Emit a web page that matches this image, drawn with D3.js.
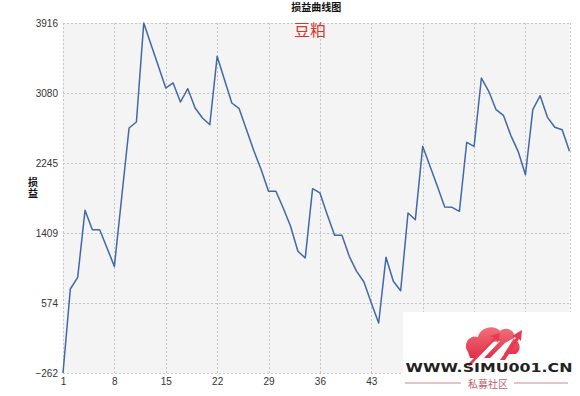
<!DOCTYPE html>
<html><head><meta charset="utf-8">
<script src="https://cdn.jsdelivr.net/npm/d3@7"></script>
<style>body{margin:0;background:#fff;}svg{display:block;}</style>
</head><body><svg id="c" width="580" height="396"></svg>
<script>
const title = "损益曲线图";
const subtitle = "豆粕";
const yLabel = "损益";
const yTicks = [-262, 574, 1409, 2245, 3080, 3916];
const xTicks = [1, 8, 15, 22, 29, 36, 43, 50, 57, 64];
const values = [-262, 741, 880, 1680, 1449, 1449, 1230, 1011, 1839, 2663,
  2734, 3916, 3657, 3399, 3140, 3200, 2973, 3132, 2901, 2782,
  2702, 3518, 3239, 2961, 2893, 2642, 2392, 2165, 1907, 1907,
  1708, 1489, 1191, 1111, 1938, 1887, 1628, 1382, 1382, 1131,
  952, 824, 574, 335, 1119, 833, 720, 1648, 1568, 2444,
  2205, 1967, 1720, 1716, 1668, 2492, 2444, 3259, 3101, 2881,
  2814, 2575, 2384, 2105, 2881, 3048, 2790, 2671, 2642, 2384];
const data = values.map((v, i) => ({x: i + 1, y: v}));

const svg = d3.select("#c");
const L = 63, R = 569.5, T = 23, B = 373;
const WM_X = 403, WM_Y = 312;
const x = d3.scaleLinear().domain([1, values.length]).range([L, R]);
const y = d3.scaleLinear().domain([-262, 3916]).range([B, T]);

svg.append("rect").attr("x", L).attr("y", T).attr("width", R - L).attr("height", B - T).attr("fill", "#f4f4f4");

const grid = svg.append("g").attr("stroke", "#c4c4c4").attr("stroke-dasharray", "2,2").attr("stroke-width", 1);
xTicks.concat([values.length]).forEach(t => {
  grid.append("line").attr("x1", Math.round(x(t)) + 0.5).attr("x2", Math.round(x(t)) + 0.5).attr("y1", T).attr("y2", B);
});
yTicks.forEach(t => {
  grid.append("line").attr("x1", L).attr("x2", R).attr("y1", Math.round(y(t)) + 0.5).attr("y2", Math.round(y(t)) + 0.5);
});

const yAxis = d3.axisLeft(y).tickValues(yTicks).tickSize(0).tickPadding(5).tickFormat(d3.format("d"));
const gy = svg.append("g").attr("transform", `translate(${L},0)`).call(yAxis);
gy.select(".domain").remove();
gy.selectAll("text").attr("font-family", "Liberation Sans, Arial, sans-serif").attr("font-size", 10).attr("fill", "#333");

// labels under the watermark box are hidden in the reference
const visibleX = xTicks.filter(t => x(t) < WM_X - 8);
const xAxis = d3.axisBottom(x).tickValues(visibleX).tickSize(0).tickPadding(5).tickFormat(d3.format("d"));
const gx = svg.append("g").attr("transform", `translate(0,${B})`).call(xAxis);
gx.select(".domain").remove();
gx.selectAll("text").attr("font-family", "Liberation Sans, Arial, sans-serif").attr("font-size", 10).attr("fill", "#333");

const line = d3.line().x(d => x(d.x)).y(d => y(d.y));
svg.append("path").datum(data).attr("d", line).attr("fill", "none").attr("stroke", "#4069a8").attr("stroke-width", 1.5).attr("stroke-linejoin", "round");

svg.append("text").attr("x", (L + R) / 2).attr("y", 11).attr("text-anchor", "middle")
  .attr("font-family", "Noto Sans CJK SC").attr("font-weight", "bold").attr("font-size", 10).attr("fill", "#111").text(title);
svg.append("text").attr("x", 310).attr("y", 36).attr("text-anchor", "middle")
  .attr("font-family", "Noto Sans CJK SC").attr("font-size", 16).attr("fill", "#d8352c").text(subtitle);
svg.append("text").attr("x", 33).attr("y", 177)
  .style("writing-mode", "vertical-rl").style("text-orientation", "upright")
  .attr("font-family", "Noto Sans CJK SC").attr("font-weight", "bold").attr("font-size", 10)
  .attr("letter-spacing", 1).attr("fill", "#111").text(yLabel);

// watermark
const wm = svg.append("g");
wm.append("rect").attr("x", WM_X).attr("y", WM_Y).attr("width", 580 - WM_X).attr("height", 396 - WM_Y).attr("fill", "#fff");
const grad = svg.append("defs").append("linearGradient").attr("id", "gr").attr("x1", 0).attr("y1", 0).attr("x2", 0).attr("y2", 1);
grad.append("stop").attr("offset", 0).attr("stop-color", "#f0707a");
grad.append("stop").attr("offset", 1).attr("stop-color", "#e03048");
wm.append("path").attr("fill", "url(#gr)")
  .attr("d", "M468,352 C462,344 470,334 478,337 C480,327 494,324 500,331 C506,326 516,330 514,339 C520,341 522,350 516,354 L504,354 L514,338 L505,343 L490,358 L484,358 L500,341 L492,342 L476,358 L470,358 Z");
wm.append("path").attr("fill", "#e83a50").attr("d", "M467,365 L494,338 L490,336 L500,333 L498,343 L496,339 L470,366 Z");
wm.append("path").attr("fill", "#e83a50").attr("d", "M500,360 L516,338 L512,336 L522,330 L521,341 L519,339 L505,360 Z");
wm.append("text").attr("x", 489).attr("y", 372).attr("text-anchor", "middle")
  .attr("font-family", "DejaVu Sans").attr("font-weight", "bold").attr("font-size", 13).attr("fill", "#222")
  .attr("textLength", 167).attr("lengthAdjust", "spacingAndGlyphs").text("WWW.SIMU001.CN");
wm.append("line").attr("x1", 405).attr("x2", 461).attr("y1", 383).attr("y2", 383).attr("stroke", "#d08890").attr("stroke-width", 1);
wm.append("line").attr("x1", 514).attr("x2", 568).attr("y1", 383).attr("y2", 383).attr("stroke", "#d08890").attr("stroke-width", 1);
wm.append("text").attr("x", 488).attr("y", 388).attr("text-anchor", "middle")
  .attr("font-family", "Noto Sans CJK SC").attr("font-size", 10).attr("fill", "#c06070").text("私募社区");
</script></body></html>
